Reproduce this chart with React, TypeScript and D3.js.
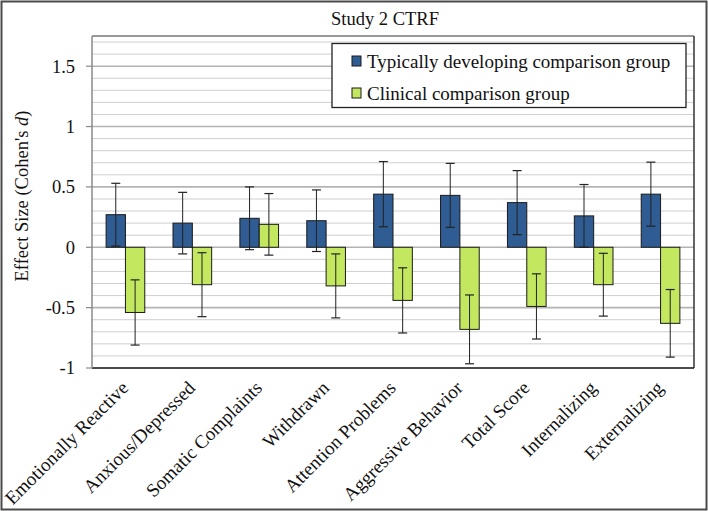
import React from "react";
import * as d3 from "d3";

const categories = [
  "Emotionally Reactive",
  "Anxious/Depressed",
  "Somatic Complaints",
  "Withdrawn",
  "Attention Problems",
  "Aggressive Behavior",
  "Total Score",
  "Internalizing",
  "Externalizing",
];
const seriesNames = ["Typically developing comparison group", "Clinical comparison group"];
const typicalValues = [0.27, 0.2, 0.24, 0.22, 0.44, 0.43, 0.37, 0.26, 0.44];
const typicalErrors = [0.26, 0.255, 0.26, 0.255, 0.27, 0.265, 0.265, 0.26, 0.265];
const clinicalValues = [-0.54, -0.31, 0.19, -0.32, -0.44, -0.68, -0.49, -0.31, -0.63];
const clinicalErrors = [0.27, 0.265, 0.255, 0.265, 0.27, 0.285, 0.27, 0.26, 0.28];
const yTicks = [-1, -0.5, 0, 0.5, 1, 1.5];

const W = 708;
const H = 511;
const plot = { left: 92, right: 694, top: 36, bottom: 368 };
const colors = ["#2F5C92", "#C3E860"];
const font = "'Liberation Serif', 'Times New Roman', serif";

export default function App() {
  const x = d3.scaleBand<string>().domain(categories).range([plot.left, plot.right]).padding(0);
  const y = d3.scaleLinear().domain([-1, 1.75]).range([plot.bottom, plot.top]);
  const barW = x.bandwidth() * 0.289;
  const minor = d3.range(-10, 18).map((v) => v / 10).filter((v) => Math.abs(v * 10) % 5 !== 0);
  const major = d3.range(-2, 4).map((v) => v / 2);
  const series = [
    { vals: typicalValues, errs: typicalErrors, off: -1 },
    { vals: clinicalValues, errs: clinicalErrors, off: 0 },
  ];
  const cap = 4.5;
  return (
    <svg width={W} height={H} style={{ position: "absolute", left: 0, top: 0, background: "#fff" }} fontFamily={font}>
      <rect x={1.5} y={1.5} width={W - 3} height={H - 3} fill="#fff" stroke="#4a4a4a" strokeWidth={2} />
      <text x={385} y={25} textAnchor="middle" fontSize={18.5} fill="#111">Study 2 CTRF</text>
      {/* gridlines */}
      {minor.map((v) => (
        <line key={"mi" + v} x1={plot.left} x2={plot.right} y1={y(v)} y2={y(v)} stroke="#cfcfcf" strokeWidth={1} />
      ))}
      {major.map((v) => (
        <line key={"ma" + v} x1={plot.left} x2={plot.right} y1={y(v)} y2={y(v)} stroke="#b4b4b4" strokeWidth={1.6} />
      ))}
      <line x1={plot.left} x2={plot.right} y1={plot.top} y2={plot.top} stroke="#333" strokeWidth={1.2} />
      <line x1={plot.right} x2={plot.right} y1={plot.top} y2={plot.bottom} stroke="#333" strokeWidth={1.5} />
      <line x1={plot.left} x2={plot.right} y1={plot.bottom} y2={plot.bottom} stroke="#222" strokeWidth={1.5} />
      <line x1={plot.left} x2={plot.left} y1={plot.top} y2={plot.bottom} stroke="#8a8a8a" strokeWidth={1.5} />
      {/* y ticks */}
      {yTicks.map((v) => (
        <g key={"yt" + v}>
          <line x1={plot.left - 6} x2={plot.left} y1={y(v)} y2={y(v)} stroke="#8a8a8a" strokeWidth={1.2} />
          <text x={75} y={y(v)} dy="0.35em" textAnchor="end" fontSize={18.5} fill="#111">
            {String(v)}
          </text>
        </g>
      ))}
      <text transform={`translate(28,${(plot.top + plot.bottom) / 2 - 6}) rotate(-90)`} textAnchor="middle" fontSize={18.5} fill="#111">
        Effect Size (Cohen's <tspan fontStyle="italic">d</tspan>)
      </text>
      {/* bars */}
      {series.map((s, si) =>
        categories.map((c, i) => {
          const cx = (x(c) as number) + x.bandwidth() / 2;
          const bx = cx + s.off * barW;
          const v = s.vals[i];
          const mid = bx + barW / 2;
          const e = s.errs[i];
          return (
            <g key={si + "-" + c}>
              <rect x={bx} y={y(Math.max(0, v))} width={barW} height={Math.abs(y(v) - y(0))} fill={colors[si]} stroke="#1a1a1a" strokeWidth={1} />
              <line x1={mid} x2={mid} y1={y(v - e)} y2={y(v + e)} stroke="#222" strokeWidth={1} />
              <line x1={mid - cap} x2={mid + cap} y1={y(v + e)} y2={y(v + e)} stroke="#222" strokeWidth={1.2} />
              <line x1={mid - cap} x2={mid + cap} y1={y(v - e)} y2={y(v - e)} stroke="#222" strokeWidth={1.2} />
            </g>
          );
        })
      )}
      {/* x labels */}
      {categories.map((c) => {
        const cx = (x(c) as number) + x.bandwidth() / 2;
        return (
          <text key={"xl" + c} transform={`translate(${cx + 4},${plot.bottom + 21}) rotate(-45)`} textAnchor="end" fontSize={19} fill="#111">
            {c}
          </text>
        );
      })}
      {/* legend */}
      <rect x={332} y={43.5} width={354} height={64} fill="#fff" stroke="#222" strokeWidth={1.3} />
      {seriesNames.map((n, i) => (
        <g key={"lg" + i}>
          <rect x={352} y={i === 0 ? 56 : 88} width={9} height={10} fill={colors[i]} stroke="#1a1a1a" strokeWidth={1} />
          <text x={367} y={i === 0 ? 68 : 100} fontSize={19} fill="#111">{n}</text>
        </g>
      ))}
    </svg>
  );
}
